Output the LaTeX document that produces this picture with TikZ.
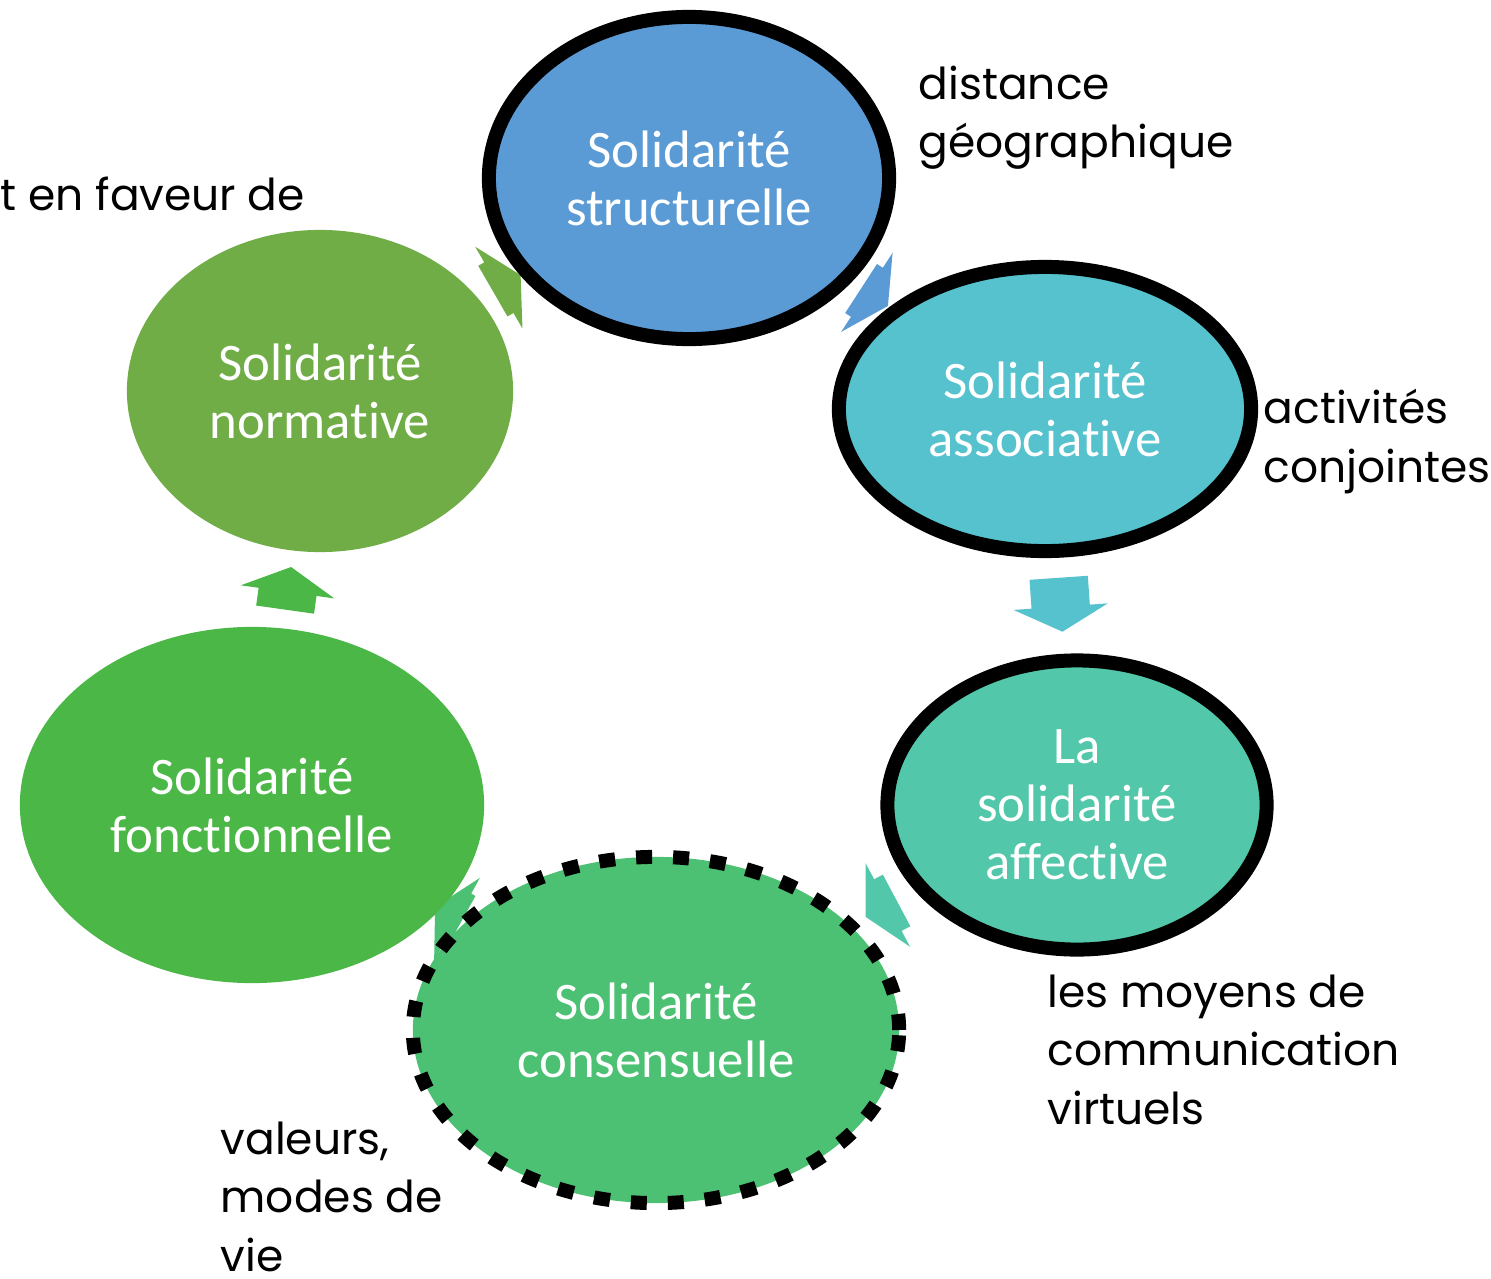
\documentclass[tikz,border=0pt]{standalone}
\usepackage{fontspec}
\setmainfont{Carlito}[Ligatures=NoCommon]
\newfontfamily\notefont{Poppins}
\usetikzlibrary{shapes.geometric,shapes.arrows}
\definecolor{cstruct}{HTML}{5B9BD5}
\definecolor{cassoc}{HTML}{56C2CE}
\definecolor{caffect}{HTML}{52C7A9}
\definecolor{cconsens}{HTML}{4CC173}
\definecolor{cfonct}{HTML}{4AB746}
\definecolor{cnorm}{HTML}{70AD47}
\begin{document}
\begin{tikzpicture}[x=0.01cm,y=-0.01cm,
  bubble/.style={ellipse,inner sep=0pt,text=white,align=center,
    font=\fontsize{15pt}{16.5pt}\selectfont},
  rim/.style={draw=black,line width=0.14cm},
  blockarrow/.style={single arrow,draw=none,inner xsep=0pt,inner ysep=0.285cm,
    single arrow head extend=0.18cm,single arrow tip angle=124},
  note/.style={anchor=base west,align=left,inner sep=0pt,
    font=\notefont\fontsize{12.5pt}{16.5pt}\selectfont}]
\useasboundingbox (0,0) rectangle (1491,1279);

\node[blockarrow,fill=cnorm,minimum height=0.32cm,rotate=30] (a1) at (500,287) {};
\node[blockarrow,fill=cstruct,minimum height=0.32cm,rotate=-33] (a2) at (868,293) {};
\node[blockarrow,fill=cassoc,minimum height=0.54cm,rotate=-86] (a3) at (1060,597) {};
\node[blockarrow,fill=caffect,minimum height=0.35cm,rotate=208] (a4) at (888,905) {};
\node[blockarrow,fill=cconsens,minimum height=0.30cm,rotate=151] (a5) at (455,918) {};
\node[blockarrow,fill=cfonct,minimum height=0.43cm,rotate=82] (a6) at (287,596) {};

\node[bubble,rim,fill=cstruct,minimum width=4cm,minimum height=3.22cm] (struct) at (689,178) {Solidarité\\structurelle};
\node[bubble,rim,fill=cassoc,minimum width=4.12cm,minimum height=2.84cm] (assoc) at (1045,409) {Solidarité\\associative};
\node[bubble,rim,fill=caffect,minimum width=3.79cm,minimum height=2.89cm] (affect) at (1077,805) {La\\solidarité\\affective};
\node[bubble,fill=cconsens,minimum width=4.86cm,minimum height=3.46cm] (consens) at (656,1030) {Solidarité\\consensuelle};
\draw[line width=0.14cm,dash pattern=on 0.16cm off 0.21cm] (consens.center) ellipse (2.43cm and 1.73cm);
\node[bubble,fill=cfonct,minimum width=4.64cm,minimum height=3.56cm] (fonct) at (252,805) {Solidarité\\fonctionnelle};
\node[bubble,fill=cnorm,minimum width=3.86cm,minimum height=3.22cm] (norm) at (320,391) {Solidarité\\normative};

\node[note] (nstruct) at (918,158) {distance\\géographique};
\node[note] (nnorm) at (0,211) {t en faveur de};
\node[note] (nassoc) at (1263,482) {activités\\conjointes};
\node[note] (naffect) at (1047,1124) {les moyens de\\communication\\virtuels};
\node[note] (nconsens) at (220,1271) {valeurs,\\modes de\\vie};
\end{tikzpicture}
\end{document}
